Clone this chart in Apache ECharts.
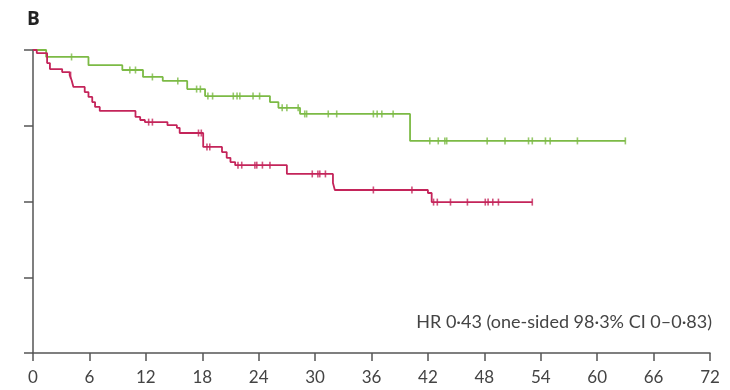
<!DOCTYPE html>
<html>
<head>
<meta charset="utf-8">
<script src="https://cdn.jsdelivr.net/npm/echarts@6/dist/echarts.min.js"></script>
<style>
html,body{margin:0;padding:0;background:#fff;}
#chart{width:730px;height:390px;}
</style>
</head>
<body>
<div id="chart"></div>
<script>
// x-axis ticks (months)
var xTicks = [0, 6, 12, 18, 24, 30, 36, 42, 48, 54, 60, 66, 72];
var yTicks = [0, 0.25, 0.5, 0.75, 1];

// Green arm: event times and survival after each event
var greenTimes = [0, 1.4, 5.9, 9.5, 11.7, 13.8, 16.4, 18.3, 25.2, 26.1, 28.4, 40.1];
var greenSurv  = [1, 0.977, 0.950, 0.934, 0.911, 0.898, 0.871, 0.848, 0.828, 0.809, 0.789, 0.700];
var greenEnd = 63.0;
var greenCensor = [4.1, 10.3, 10.9, 12.7, 15.4, 17.4, 17.8, 18.6, 19.1, 21.3, 21.7, 22.0, 23.4, 24.1,
  26.5, 27.0, 28.2, 28.9, 29.1, 31.4, 32.3, 36.2, 36.6, 37.1, 38.3, 42.2, 43.1, 43.8, 44.0,
  48.3, 50.2, 52.7, 53.1, 54.5, 55.0, 57.9, 63.0];

// Red arm
var redTimes = [0, 0.4, 1.5, 1.8, 3.1, 3.9, 4.1, 4.3, 5.5, 5.9, 6.3, 6.6, 7.1, 10.9, 11.4, 11.9,
  14.3, 15.3, 15.6, 18.1, 20.1, 20.6, 21.0, 21.5, 27.0, 31.9, 32.1, 42.0, 42.4];
var redSurv  = [1, 0.990, 0.957, 0.937, 0.927, 0.917, 0.901, 0.878, 0.861, 0.845, 0.828, 0.812, 0.799,
  0.779, 0.769, 0.762, 0.752, 0.743, 0.726, 0.680, 0.663, 0.644, 0.630, 0.620, 0.591, 0.561, 0.538,
  0.528, 0.498];
var redEnd = 53.1;
var redCensor = [4.0, 12.3, 12.7, 17.6, 17.9, 18.5, 18.8, 21.8, 22.2, 23.6, 23.8, 24.4, 25.2,
  29.7, 30.3, 30.5, 31.1, 36.2, 40.3, 42.6, 43.0, 44.4, 46.2, 48.1, 48.4, 48.9, 49.5, 53.1];

var panelLabel = 'B';
var hrText = 'HR 0·43 (one-sided 98·3% CI 0–0·83)';

var GREEN = '#7cba45';
var RED = '#c4245a';
var AXIS = '#555555';
var FONT = 'Lato, "Open Sans", sans-serif';

function stepData(times, surv, end) {
  var d = [];
  for (var i = 0; i < times.length; i++) d.push([times[i], surv[i]]);
  d.push([end, surv[surv.length - 1]]);
  return d;
}
function survAt(times, surv, t) {
  var s = surv[0];
  for (var i = 0; i < times.length; i++) { if (times[i] <= t) s = surv[i]; }
  return s;
}
function censorData(times, surv, cens) {
  return cens.map(function (t) { return [t, survAt(times, surv, t)]; });
}

var chart = echarts.init(document.getElementById('chart'), null, {renderer: 'canvas'});
chart.setOption({
  animation: false,
  backgroundColor: '#ffffff',
  grid: {left: 33, right: 20, top: 50, bottom: 37, containLabel: false},
  title: {
    text: panelLabel, left: 22, top: 5,
    textStyle: {fontFamily: '"Open Sans", "DejaVu Sans", sans-serif', fontWeight: 'bold', fontSize: 19, color: '#222'}
  },
  graphic: [{
    type: 'text', right: 18, top: 313,
    style: {text: hrText, fill: '#444', font: '18px ' + FONT}
  }],
  xAxis: {
    type: 'value', min: 0, max: 72, interval: 6,
    axisLine: {lineStyle: {color: AXIS, width: 1.5}},
    axisTick: {length: 8, lineStyle: {color: AXIS, width: 1.5}},
    axisLabel: {color: '#444', fontSize: 17, fontFamily: FONT, margin: 16,
      formatter: function (v) { return xTicks.indexOf(v) >= 0 ? String(v) : ''; }},
    splitLine: {show: false}
  },
  yAxis: {
    type: 'value', min: 0, max: 1, interval: 0.25,
    axisLine: {show: true, lineStyle: {color: AXIS, width: 1.5}},
    axisTick: {show: true, length: 9, lineStyle: {color: AXIS, width: 1.5}},
    axisLabel: {show: false},
    splitLine: {show: false}
  },
  series: [
    {type: 'line', step: 'end', data: stepData(greenTimes, greenSurv, greenEnd), showSymbol: false,
      lineStyle: {color: GREEN, width: 1.8}, z: 3},
    {type: 'line', step: 'end', data: stepData(redTimes, redSurv, redEnd), showSymbol: false,
      lineStyle: {color: RED, width: 1.8}, z: 4},
    {type: 'scatter', data: censorData(greenTimes, greenSurv, greenCensor), symbol: 'rect', symbolSize: [1.6, 7],
      itemStyle: {color: GREEN}, z: 5},
    {type: 'scatter', data: censorData(redTimes, redSurv, redCensor), symbol: 'rect', symbolSize: [1.6, 7],
      itemStyle: {color: RED}, z: 6}
  ]
});
</script>
</body>
</html>
